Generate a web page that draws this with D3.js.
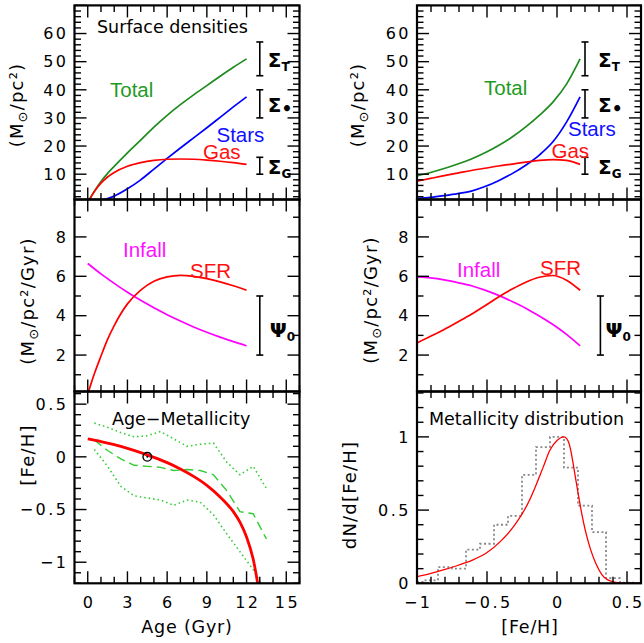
<!DOCTYPE html>
<html lang="en">
<head>
<meta charset="UTF-8">
<title>Chemical evolution model</title>
<style>
  body { margin: 0; background: #fff; }
  svg text { font-family: "DejaVu Sans", sans-serif; }
  .tick-label { font-size: 16px; letter-spacing: 2.5px; }
  .axis-title { font-size: 18px; letter-spacing: 1.2px; }
  .x-title { font-size: 17.5px; letter-spacing: 0.8px; }
  .panel-title { font-size: 17.5px; }
  svg text.curve-label { font-family: "Liberation Sans", sans-serif; font-size: 20.5px; }
</style>
</head>
<body>
<div id="chart"></div>
<script src="https://d3js.org/d3.v7.min.js"></script>
<script>
// ---------- data: surface densities, left model (age in Gyr)
const ageL   = [0, 0.5, 1, 1.5, 2, 3, 4, 5, 6, 7, 8, 9, 10, 11, 12];
const totalL = [0, 3.95, 7.4, 10.3, 12.8, 17.6, 22.1, 26.7, 30.9, 34.7, 38.2, 41.5, 44.8, 48.0, 51.0];
const starsL = [0, 0.15, 0.6, 1.3, 2.2, 4.8, 8.0, 11.8, 15.6, 19.3, 22.9, 26.5, 30.2, 33.9, 37.5];
const gasL   = [0, 3.8, 6.8, 9.0, 10.6, 12.8, 14.1, 14.9, 15.3, 15.4, 15.3, 15.0, 14.6, 14.1, 13.5];

// ---------- surface densities, right model (time 0-12 Gyr)
const timeR  = [0, 1, 2, 3, 4, 5, 6, 7, 8, 9, 10, 11, 12];
const totalR = [9.4, 10.6, 12.0, 13.6, 15.4, 17.6, 20.2, 23.2, 26.8, 30.9, 35.6, 42.0, 51.0];
const starsR = [1.4, 1.8, 2.4, 3.1, 4.0, 5.6, 7.7, 10.2, 13.2, 16.8, 21.5, 28.5, 37.5];
const gasR   = [7.5, 8.5, 9.5, 10.4, 11.3, 12.1, 12.9, 13.6, 14.3, 14.9, 15.2, 14.9, 13.5];

// observed ranges (Sigma_T, Sigma_star, Sigma_G)
const sigmaNames = ["T", "\u2022", "G"];
const sigmaLo    = [45, 30, 10];
const sigmaHi    = [57, 40, 16];

// ---------- infall and star formation rate
const ageInfL = [0, 1, 2, 3, 4, 5, 6, 7, 8, 9, 10, 11, 12];
const infallL = [6.65, 6.12, 5.64, 5.19, 4.78, 4.40, 4.05, 3.73, 3.43, 3.16, 2.91, 2.68, 2.47];
const ageSfrL = [0, 0.25, 0.5, 1, 1.5, 2, 3, 4, 5, 6, 7, 8, 9, 10, 11, 12];
const sfrL    = [0, 0.55, 1.05, 1.95, 2.8, 3.5, 4.6, 5.3, 5.75, 5.97, 6.05, 6.0, 5.88, 5.72, 5.52, 5.29];
const infallR = [5.97, 5.92, 5.82, 5.68, 5.52, 5.30, 5.03, 4.72, 4.38, 3.98, 3.55, 3.05, 2.47];
const sfrR    = [2.62, 2.95, 3.30, 3.68, 4.07, 4.50, 4.95, 5.35, 5.70, 5.95, 6.04, 5.80, 5.29];
const psiRange = [2, 5];

// ---------- age-metallicity relation
const amrAge = [0, 1, 2, 3, 4, 5, 6, 7, 8, 9, 10, 11, 11.5, 12, 12.5, 13];
const amrFe  = [0.17, 0.145, 0.115, 0.08, 0.04, -0.005, -0.055, -0.115, -0.185, -0.27, -0.38, -0.52, -0.62, -0.76, -0.97, -1.32];
const obsAge = [0.5, 1.5, 2.5, 3.5, 4.5, 5.5, 6.5, 7.5, 8.5, 9.5, 10.5, 11.5, 12.5, 13.5];
const obsMean  = [0.16, 0.06, -0.02, -0.08, -0.09, -0.10, -0.13, -0.12, -0.13, -0.17, -0.32, -0.52, -0.54, -0.78];
const obsUpper = [0.32, 0.28, 0.23, 0.19, 0.20, 0.24, 0.17, 0.10, 0.12, 0.13, -0.05, -0.17, -0.09, -0.30];
const obsLower = [0.07, -0.09, -0.28, -0.37, -0.39, -0.41, -0.46, -0.41, -0.43, -0.55, -0.73, -0.90, -1.07, -1.30];
const sunAge = 4.5, sunFe = 0;

// ---------- metallicity distribution
const mdFe  = [-1, -0.9, -0.8, -0.7, -0.6, -0.5, -0.4, -0.3, -0.2, -0.15, -0.1, -0.05, 0, 0.05, 0.08, 0.1, 0.12, 0.15, 0.18, 0.2, 0.24, 0.28, 0.32, 0.36, 0.4, 0.45, 0.5, 0.6];
const mdVal = [0.045, 0.068, 0.095, 0.125, 0.16, 0.21, 0.29, 0.40, 0.56, 0.67, 0.79, 0.91, 0.975, 1.0, 0.97, 0.9, 0.79, 0.62, 0.46, 0.37, 0.23, 0.13, 0.06, 0.025, 0.01, 0.003, 0.001, 0];
const histFe  = [-1.0, -0.9, -0.8, -0.7, -0.6, -0.5, -0.4, -0.3, -0.2, -0.1, 0.0, 0.1, 0.2, 0.3, 0.4, 0.5, 0.6];
const histVal = [0.01, 0.02, 0.11, 0.10, 0.23, 0.27, 0.40, 0.46, 0.74, 0.93, 1.0, 0.79, 0.53, 0.35, 0.035, 0.005, 0.0];

// tick labels
const ageTicks = [0, 3, 6, 9, 12, 15];
const feTicks  = [-1, -0.5, 0, 0.5];
const sigTicks = [10, 20, 30, 40, 50, 60];
const rateTicks = [2, 4, 6, 8];
const amrTicks = [0.5, 0, -0.5, -1];
const mdTicks  = [0, 0.5, 1];

// ---------- layout
const W = 644, H = 643;
const svg = d3.select("#chart").append("svg").attr("width", W).attr("height", H);

const colL = [74.5, 299.5], colR = [417, 641];
const rowY = [[199.5, 5.4], [391.5, 199.5], [583.3, 391.5]];

const xAge = d3.scaleLinear().domain([-1, 16]).range(colL);
const xFe  = d3.scaleLinear().domain([-1, 0.6]).range(colR);
const xTimeR = d3.scaleLinear().domain([0, 12]).range([xFe(-1), xFe(0.165)]);

const ySig  = d3.scaleLinear().domain([1, 70]).range(rowY[0]);
const yRate = d3.scaleLinear().domain([0.15, 9.9]).range(rowY[1]);
const yAmr  = d3.scaleLinear().domain([-1.2, 0.62]).range(rowY[2]);
const yMd   = d3.scaleLinear().domain([0, 1.31]).range(rowY[2]);

const fmt = v => (v < 0 ? "\u2212" : "") + String(Math.abs(v));
const defs = svg.append("defs");
let nClip = 0;

function ticksOf(dom, step) {
    const lo = Math.min(...dom), hi = Math.max(...dom);
    return d3.range(Math.ceil(lo / step - 1e-6), Math.floor(hi / step + 1e-6) + 1)
        .map(k => +(k * step).toFixed(6));
}
const isMajor = (v, m) => Math.abs(v / m - Math.round(v / m)) < 1e-6;

// one box with inward ticks on all four sides
function panel(x, y, o) {
    const g = svg.append("g");
    const [xa, xb] = x.range(), [yb, yt] = y.range();
    const id = "clip" + (nClip++);
    defs.append("clipPath").attr("id", id).append("rect")
        .attr("x", xa).attr("y", yt).attr("width", xb - xa).attr("height", yb - yt);
    const plot = g.append("g").attr("clip-path", `url(#${id})`);
    const ax = g.append("g");

    const xt = ticksOf(x.domain(), o.xMinor).map(v => ({ v, L: isMajor(v, o.xMajor) ? 12 : 6.5 }));
    const yt2 = ticksOf(y.domain(), o.yMinor).map(v => ({ v, L: isMajor(v, o.yMajor) ? 12 : 6.5 }));

    ax.selectAll(".xb").data(xt).join("line")
        .attr("x1", d => x(d.v)).attr("x2", d => x(d.v))
        .attr("y1", yb).attr("y2", d => yb - d.L);
    ax.selectAll(".xt").data(xt).join("line")
        .attr("x1", d => x(d.v)).attr("x2", d => x(d.v))
        .attr("y1", yt).attr("y2", d => yt + d.L);
    ax.selectAll(".yl").data(yt2).join("line")
        .attr("x1", xa).attr("x2", d => xa + d.L)
        .attr("y1", d => y(d.v)).attr("y2", d => y(d.v));
    ax.selectAll(".yr").data(yt2).join("line")
        .attr("x1", xb).attr("x2", d => xb - d.L)
        .attr("y1", d => y(d.v)).attr("y2", d => y(d.v));
    ax.selectAll("line").attr("stroke", "#000").attr("stroke-width", 1.4);

    ax.append("rect")
        .attr("x", xa).attr("y", yt).attr("width", xb - xa).attr("height", yb - yt)
        .attr("fill", "none").attr("stroke", "#000").attr("stroke-width", 2.2);

    if (o.yLabels) {
        ax.selectAll(".ylab").data(o.yLabels).join("text")
            .attr("class", "tick-label")
            .attr("x", xa - 8.5 + 2.5).attr("y", d => y(d)).attr("dy", "0.36em")
            .attr("text-anchor", "end").text(fmt);
    }
    if (o.xLabels) {
        ax.selectAll(".xlab").data(o.xLabels).join("text")
            .attr("class", "tick-label")
            .attr("x", d => x(d) + 1.25).attr("y", 608)
            .attr("text-anchor", "middle").text(fmt);
    }
    return plot;
}

function curve(g, x, y, xs, ys, color, width, dash, smooth) {
    const line = d3.line().x(d => x(d[0])).y(d => y(d[1]))
        .curve(smooth || d3.curveMonotoneX);
    g.append("path").datum(d3.zip(xs, ys)).attr("d", line)
        .attr("fill", "none").attr("stroke", color).attr("stroke-width", width)
        .attr("stroke-dasharray", dash || null);
}

function label(x, y, text, color, cls) {
    return svg.append("text").attr("class", cls || "curve-label")
        .attr("x", x).attr("y", y).style("fill", color).text(text);
}

function yTitle(cx, cy, parts, cls) {
    const t = svg.append("text").attr("class", cls || "axis-title")
        .attr("text-anchor", "middle")
        .attr("transform", `translate(${cx},${cy}) rotate(-90)`)
        .attr("dy", "0.36em");
    parts.forEach(p => {
        const s = t.append("tspan").text(p.t);
        if (p.dy) s.attr("dy", p.dy);
        if (p.fs) s.attr("font-size", p.fs);
    });
    return t;
}
const msunParts = [{ t: "(M" }, { t: "\u2299", dy: 4, fs: 13 }, { t: "/pc\u00b2", dy: -4 }];

function errBar(x, y, xv, lo, hi) {
    const g = svg.append("g").attr("stroke", "#000").attr("stroke-width", 1.6);
    g.append("line").attr("x1", x(xv)).attr("x2", x(xv)).attr("y1", y(lo)).attr("y2", y(hi));
    [lo, hi].forEach(v => g.append("line")
        .attr("x1", x(xv) - 3.5).attr("x2", x(xv) + 3.5).attr("y1", y(v)).attr("y2", y(v)));
}

function greek(px, py, sym, sub) {
    const t = svg.append("text").attr("x", px).attr("y", py)
        .attr("font-size", 20).attr("font-weight", "bold").text(sym);
    t.append("tspan").attr("font-size", sub === "\u2022" ? 17 : 12)
        .attr("dy", sub === "\u2022" ? 3 : 4).text(sub);
}

// ================= row 0 : surface densities
const pSL = panel(xAge, ySig, { xMinor: 1, xMajor: 3, yMinor: 2, yMajor: 10, yLabels: sigTicks });
curve(pSL, xAge, ySig, ageL, totalL, "#1e8b1e", 1.7);
curve(pSL, xAge, ySig, ageL, starsL, "#0000ff", 1.7);
curve(pSL, xAge, ySig, ageL, gasL, "#ff0000", 1.7);

const pSR = panel(xFe, ySig, { xMinor: 0.1, xMajor: 0.5, yMinor: 2, yMajor: 10, yLabels: sigTicks });
curve(pSR, xTimeR, ySig, timeR, totalR, "#1e8b1e", 1.7);
curve(pSR, xTimeR, ySig, timeR, starsR, "#0000ff", 1.7);
curve(pSR, xTimeR, ySig, timeR, gasR, "#ff0000", 1.7);

sigmaNames.forEach((n, i) => {
    errBar(xAge, ySig, 13, sigmaLo[i], sigmaHi[i]);
    errBar(xFe, ySig, 0.2, sigmaLo[i], sigmaHi[i]);
    const mid = ySig((sigmaLo[i] + sigmaHi[i]) / 2) + 8;
    greek(xAge(13) + 8, mid, "\u03a3", n);
    greek(xFe(0.2) + 13, mid, "\u03a3", n);
});

label(97, 33, "Surface densities", "#000", "panel-title");
label(110, 96.5, "Total", "#1f9a1f");
label(216.5, 141.5, "Stars", "#1010ff");
label(203, 159, "Gas", "#ff1010");
label(484, 95, "Total", "#1f9a1f");
label(568, 135.5, "Stars", "#1010ff");
label(551.5, 158, "Gas", "#ff1010");

yTitle(17, 105, msunParts.concat([{ t: ")" }]));
yTitle(358, 105, msunParts.concat([{ t: ")" }]));

// ================= row 1 : infall and SFR
const pRL = panel(xAge, yRate, { xMinor: 1, xMajor: 3, yMinor: 1, yMajor: 2, yLabels: rateTicks });
curve(pRL, xAge, yRate, ageInfL, infallL, "#ff00ff", 1.7);
curve(pRL, xAge, yRate, ageSfrL, sfrL, "#ff0000", 1.7);

const pRR = panel(xFe, yRate, { xMinor: 0.1, xMajor: 0.5, yMinor: 1, yMajor: 2, yLabels: rateTicks });
curve(pRR, xTimeR, yRate, timeR, infallR, "#ff00ff", 1.7);
curve(pRR, xTimeR, yRate, timeR, sfrR, "#ff0000", 1.7);

errBar(xAge, yRate, 13, psiRange[0], psiRange[1]);
errBar(xFe, yRate, 0.31, psiRange[0], psiRange[1]);
const psiY = yRate((psiRange[0] + psiRange[1]) / 2) + 11;
greek(xAge(13) + 10, psiY, "\u03a8", "0");
greek(xFe(0.31) + 5, psiY, "\u03a8", "0");

label(123, 257, "Infall", "#ff10ff");
label(190, 278, "SFR", "#ff1010");
label(457, 277, "Infall", "#ff10ff");
label(540, 275, "SFR", "#ff1010");

yTitle(28, 301, msunParts.concat([{ t: "/Gyr)" }]));
yTitle(371, 300, msunParts.concat([{ t: "/Gyr)" }]));

// ================= row 2 left : age-metallicity
const pAL = panel(xAge, yAmr, { xMinor: 1, xMajor: 3, yMinor: 0.1, yMajor: 0.5, yLabels: amrTicks, xLabels: ageTicks });
curve(pAL, xAge, yAmr, obsAge, obsUpper, "#33cc33", 1.6, "1.5,3", d3.curveLinear);
curve(pAL, xAge, yAmr, obsAge, obsLower, "#33cc33", 1.6, "1.5,3", d3.curveLinear);
curve(pAL, xAge, yAmr, obsAge, obsMean, "#33cc33", 1.4, "9,5", d3.curveLinear);
curve(pAL, xAge, yAmr, amrAge, amrFe, "#ff0000", 2.8);
pAL.append("circle").attr("cx", xAge(sunAge)).attr("cy", yAmr(sunFe)).attr("r", 4.3)
    .attr("fill", "none").attr("stroke", "#000").attr("stroke-width", 1.4);
pAL.append("circle").attr("cx", xAge(sunAge)).attr("cy", yAmr(sunFe)).attr("r", 1)
    .attr("fill", "#000");
label(112, 425, "Age\u2212Metallicity", "#000", "panel-title");
yTitle(28, 455, [{ t: "[Fe/H]" }]);
svg.append("text").attr("class", "x-title").attr("x", 187).attr("y", 633)
    .attr("text-anchor", "middle").text("Age (Gyr)");

// ================= row 2 right : metallicity distribution
const pMR = panel(xFe, yMd, { xMinor: 0.1, xMajor: 0.5, yMinor: 0.1, yMajor: 0.5, yLabels: mdTicks, xLabels: feTicks });
curve(pMR, xFe, yMd, histFe, histVal, "#888888", 1.8, "2,2.5", d3.curveStep);
curve(pMR, xFe, yMd, mdFe, mdVal, "#ff0000", 1.3);
label(429, 425, "Metallicity distribution", "#000", "panel-title");
yTitle(350, 495, [{ t: "dN/d[Fe/H]" }]);
svg.append("text").attr("class", "x-title").attr("x", 530).attr("y", 633)
    .attr("text-anchor", "middle").text("[Fe/H]");
</script>
</body>
</html>
